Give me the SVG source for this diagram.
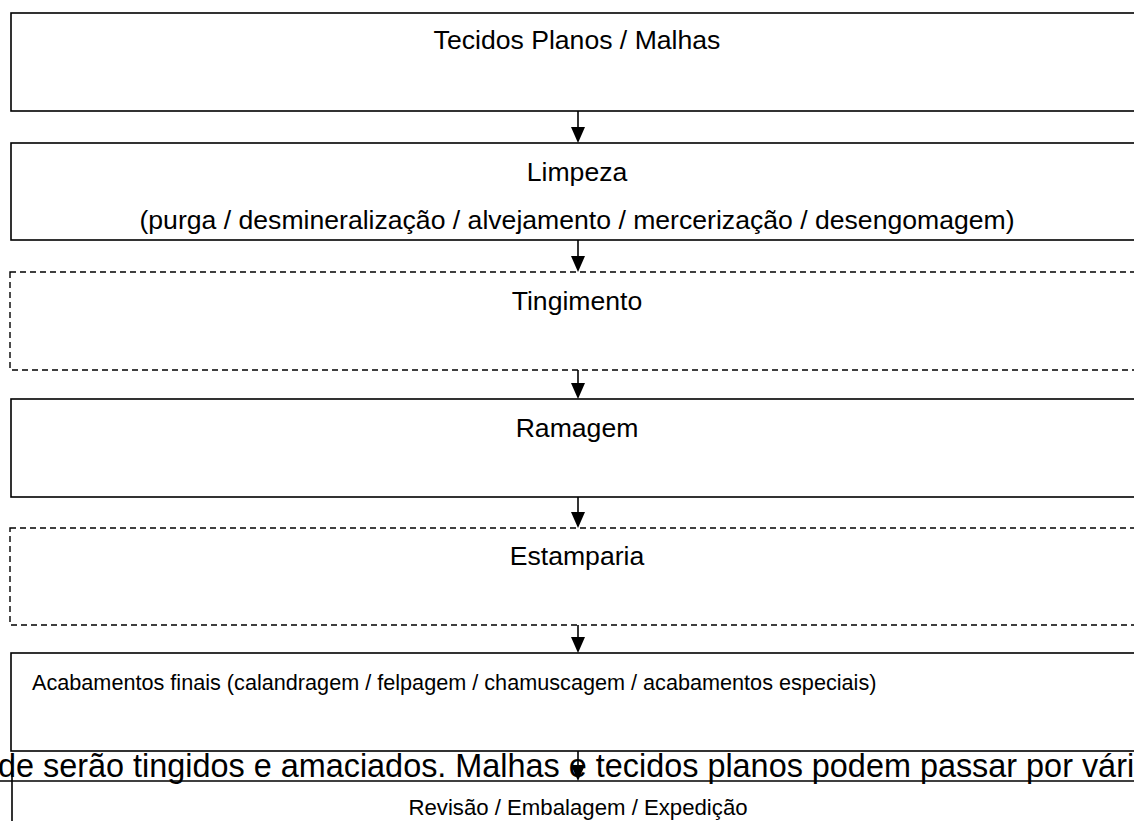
<svg xmlns="http://www.w3.org/2000/svg" width="1134" height="821" viewBox="0 0 1134 821">
<style>
.box{fill:#fff;stroke:#000;stroke-width:1.6}
.dash{fill:#fff;stroke:#000;stroke-width:1.4;stroke-dasharray:6 4}
.t{font-family:"Liberation Sans",Arial,sans-serif;font-size:21.65px;fill:#000}
.L{font-size:26.6px}
.c{text-anchor:middle}
.conn{stroke:#000;stroke-width:1.6;fill:none}
</style>
<g id="n1"><rect class="box" x="11" y="13" width="1140" height="98"/><text class="t L c" x="577" y="49">Tecidos Planos / Malhas</text></g>
<g id="n2"><rect class="box" x="11" y="143" width="1140" height="97"/><text class="t L c" x="577" y="181">Limpeza</text><text class="t L c" x="577" y="229">(purga / desmineralização / alvejamento / mercerização / desengomagem)</text></g>
<g id="n3"><rect class="dash" x="10" y="272" width="1140" height="98"/><text class="t L c" x="577" y="310">Tingimento</text></g>
<g id="n4"><rect class="box" x="11" y="399" width="1140" height="98"/><text class="t L c" x="577" y="437">Ramagem</text></g>
<g id="n5"><rect class="dash" x="10" y="528" width="1140" height="97"/><text class="t L c" x="577" y="565">Estamparia</text></g>
<g id="n6"><rect class="box" x="11" y="653" width="1140" height="98"/><text class="t" x="32" y="690">Acabamentos finais (calandragem / felpagem / chamuscagem / acabamentos especiais)</text></g>
<g id="n7"><line class="conn" x1="12" y1="759" x2="12" y2="821"/><line class="conn" x1="0" y1="781" x2="1134" y2="781"/><text class="t c" x="578" y="815" style="font-size:22.2px">Revisão / Embalagem / Expedição</text></g>
<g id="overlay"><text x="-2" y="777" style="font-family:'Liberation Sans',Arial,sans-serif;font-size:32.4px;fill:#000">de serão tingidos e amaciados. Malhas e tecidos planos podem passar por vári</text></g>
<g id="connectors">
<path d="M578,111 V127" class="conn"/><path d="M571,127 L585,127 L578,143 Z"/>
<path d="M578,240 V256" class="conn"/><path d="M571,256 L585,256 L578,272 Z"/>
<path d="M578,370 V383" class="conn"/><path d="M571,383 L585,383 L578,399 Z"/>
<path d="M578,497 V512" class="conn"/><path d="M571,512 L585,512 L578,528 Z"/>
<path d="M578,625 V637" class="conn"/><path d="M571,637 L585,637 L578,653 Z"/>
<path d="M578,751 V765" class="conn"/><path d="M571,765 L585,765 L578,781 Z"/>
</g>
</svg>
